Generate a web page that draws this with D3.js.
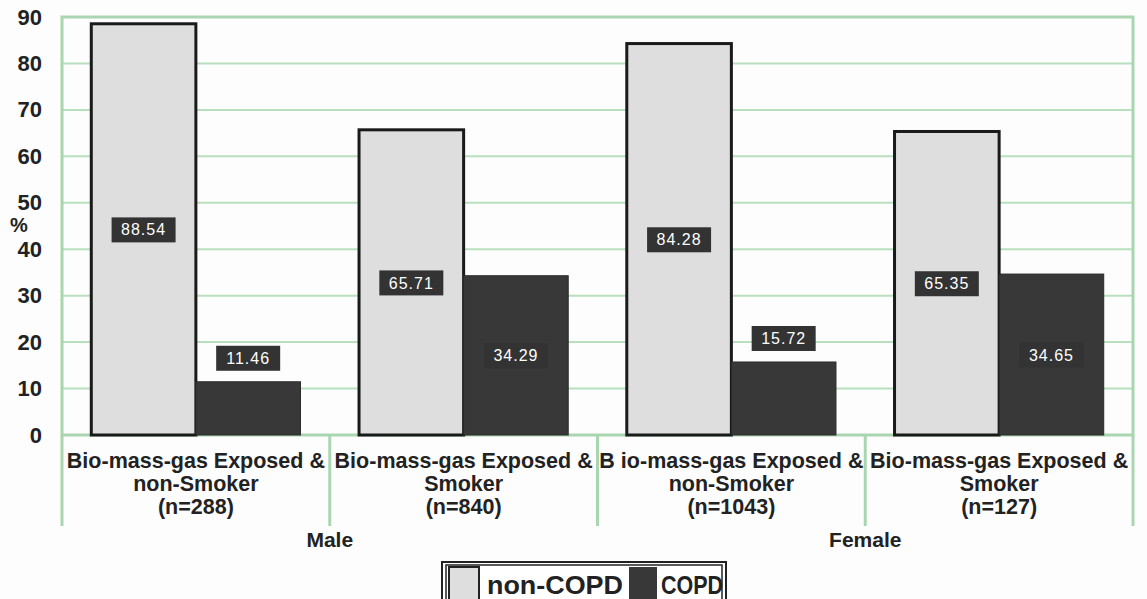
<!DOCTYPE html>
<html>
<head>
<meta charset="utf-8">
<script src="https://cdn.jsdelivr.net/npm/d3@7"></script>
<style>
  body { margin: 0; background: #fdfdfd; }
  svg { display: block; font-family: Arial, "Liberation Sans", sans-serif; }
</style>
</head>
<body>
<svg id="chart" width="1147" height="599"></svg>
<script>
const categories = [
  ["Bio-mass-gas Exposed &", "non-Smoker", "(n=288)"],
  ["Bio-mass-gas Exposed &", "Smoker", "(n=840)"],
  ["B io-mass-gas Exposed &", "non-Smoker", "(n=1043)"],
  ["Bio-mass-gas Exposed &", "Smoker", "(n=127)"]
];
const groups = ["Male", "Female"];
const series = ["non-COPD", "COPD"];
const nonCOPD = [88.54, 65.71, 84.28, 65.35];
const COPD = [11.46, 34.29, 15.72, 34.65];
const yTicks = [0, 10, 20, 30, 40, 50, 60, 70, 80, 90];

(function () {
const svg = d3.select("#chart");
const mLeft = 62, mRight = 1133, mTop = 17, mBottom = 435;
const green = "#a9d6b0";
const colors = { "non-COPD": "#dededf", "COPD": "#383838" };
const txt = "#222";

const y = d3.scaleLinear().domain([0, 90]).range([mBottom, mTop]);
const x0 = d3.scaleBand().domain(d3.range(categories.length)).range([mLeft, mRight]).padding(0);
const x1 = d3.scaleBand().domain(series).range([0, x0.bandwidth()]).paddingInner(0).paddingOuter(0.28);

// gridlines
svg.append("g").selectAll("line").data(yTicks.filter(t => t > 0 && t < 90)).join("line")
  .attr("x1", mLeft).attr("x2", mRight)
  .attr("y1", d => y(d)).attr("y2", d => y(d))
  .attr("stroke", "#b8e0bd").attr("stroke-width", 2);

// plot border
svg.append("rect").attr("x", mLeft).attr("y", y(90)).attr("width", mRight - mLeft).attr("height", y(0) - y(90))
  .attr("fill", "none").attr("stroke", green).attr("stroke-width", 3);

// category separators extending below axis
svg.append("g").selectAll("line").data(d3.range(categories.length + 1)).join("line")
  .attr("x1", d => d < categories.length ? x0(d) : mRight)
  .attr("x2", d => d < categories.length ? x0(d) : mRight)
  .attr("y1", y(0)).attr("y2", 526)
  .attr("stroke", green).attr("stroke-width", 3);

// y axis labels
const yAxis = d3.axisLeft(y).tickValues(yTicks).tickSize(0).tickPadding(20);
const ga = svg.append("g").attr("transform", `translate(${mLeft},0)`).call(yAxis);
ga.select(".domain").remove();
ga.selectAll("text").attr("font-size", 22).attr("font-weight", "bold").attr("fill", txt)
  .attr("font-family", "Arial, 'Liberation Sans', sans-serif");

svg.append("text").attr("x", 19).attr("y", 232).attr("text-anchor", "middle")
  .attr("font-size", 20).attr("font-weight", "bold").attr("fill", txt).text("%");

// bars
const data = categories.map((c, i) => ({ i, values: [
  { s: "non-COPD", v: nonCOPD[i] }, { s: "COPD", v: COPD[i] } ] }));

const gBars = svg.append("g").selectAll("g").data(data).join("g")
  .attr("transform", d => `translate(${x0(d.i)},0)`);

gBars.selectAll("rect").data(d => d.values).join("rect")
  .attr("x", d => x1(d.s)).attr("width", x1.bandwidth())
  .attr("y", d => y(d.v)).attr("height", d => y(0) - y(d.v))
  .attr("fill", d => colors[d.s])
  .attr("stroke", d => d.s === "non-COPD" ? "#1a1a1a" : "#2a2a2a")
  .attr("stroke-width", d => d.s === "non-COPD" ? 3 : 1);

// value labels
const lab = gBars.selectAll("g.lab").data(d => d.values).join("g").attr("class", "lab")
  .attr("transform", d => {
    const cx = x1(d.s) + x1.bandwidth() / 2;
    const cy = d.v < 20 ? y(d.v) - 24 : (y(d.v) + y(0)) / 2;
    return `translate(${cx},${cy})`;
  });
lab.append("rect").attr("x", -32).attr("y", -12).attr("width", 64).attr("height", 25)
  .attr("fill", "#333");
lab.append("text").attr("text-anchor", "middle").attr("dy", "0.38em")
  .attr("font-size", 16).attr("fill", "#fff").attr("letter-spacing", 1)
  .text(d => d.v.toFixed(2));

// category labels
const gCat = svg.append("g").selectAll("text").data(categories).join("text")
  .attr("text-anchor", "middle").attr("font-size", 21.5).attr("font-weight", "bold").attr("fill", txt)
  .attr("transform", (d, i) => `translate(${x0(i) + x0.bandwidth() / 2},0)`);
gCat.selectAll("tspan").data(d => d).join("tspan")
  .attr("x", 0).attr("y", (d, j) => 468 + j * 23).text(d => d);

// group labels
svg.append("g").selectAll("text").data(groups).join("text")
  .attr("x", (d, i) => (x0(i * 2) + (i * 2 + 2 < categories.length ? x0(i * 2 + 2) : mRight)) / 2)
  .attr("y", 547).attr("text-anchor", "middle")
  .attr("font-size", 21).attr("font-weight", "bold").attr("fill", txt).text(d => d);

// legend
const lg = svg.append("g").attr("transform", "translate(442,562)");
lg.append("rect").attr("x", 0).attr("y", 0).attr("width", 284).attr("height", 42)
  .attr("fill", "#fff").attr("stroke", "#222").attr("stroke-width", 2);
lg.append("rect").attr("x", 4).attr("y", 3).attr("width", 276).attr("height", 42)
  .attr("fill", "none").attr("stroke", "#222").attr("stroke-width", 1.5);
const itemX = { "non-COPD": 7, "COPD": 187 };
const textLen = { "non-COPD": 136, "COPD": 62 };
const items = lg.selectAll("g").data(series).join("g")
  .attr("transform", d => `translate(${itemX[d]},5)`);
items.append("rect").attr("width", d => d === "non-COPD" ? 30 : 28).attr("height", 34)
  .attr("fill", d => colors[d]).attr("stroke", d => d === "non-COPD" ? "#222" : "none").attr("stroke-width", 2);
items.append("text").attr("x", d => d === "non-COPD" ? 38 : 32).attr("y", 27)
  .attr("font-size", 25).attr("font-weight", "bold")
  .attr("textLength", d => textLen[d]).attr("lengthAdjust", "spacingAndGlyphs")
  .attr("fill", txt).text(d => d);
})();
</script>
</body>
</html>
